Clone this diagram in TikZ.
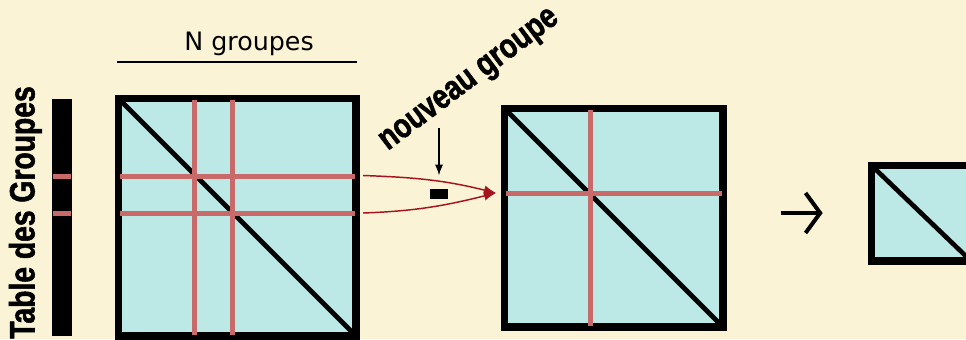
\documentclass[tikz,border=0pt]{standalone}
\usepackage{fontspec}
\setmainfont{DejaVu Sans}
\newfontfamily\condfont[FakeStretch=0.8,FakeBold=1.5]{Liberation Sans}
\usetikzlibrary{arrows.meta,positioning}
\definecolor{fond}{RGB}{250,243,213}
\definecolor{cyanpale}{RGB}{188,232,230}
\definecolor{rougegroupe}{RGB}{200,106,106}
\definecolor{rougefleche}{RGB}{165,20,30}

\begin{document}
\begin{tikzpicture}[
  x=0.75pt, y=-0.75pt,
  matrice/.style={draw,line width=3.75pt,fill=cyanpale,inner sep=0pt},
  diag/.style={line width=3.5pt},
  groupe/.style={draw=rougegroupe,line width=3.75pt,shorten <=1.5pt,shorten >=1.5pt},
  fusion/.style={draw=rougefleche,line width=1.1pt,-{Latex[length=9pt,width=7pt]}},
  titre/.style={font=\condfont\bfseries\fontsize{26.5}{26.5}\selectfont}
]
  \fill[fond] (0,0) rectangle (966,339);
  \useasboundingbox (0,0) rectangle (966,339);

  % table des groupes
  \node[fill=black,inner sep=0pt,minimum width=15pt,minimum height=177.75pt] (table) at (62,217.5) {};
  \node[titre,rotate=90,anchor=base] (tlabel) at (34.5,212.5) {Table des Groupes};
  \draw[groupe,shorten <=0.7pt,shorten >=0.7pt] (table.west |- 0,176) -- (table.east |- 0,176);
  \draw[groupe,shorten <=0.7pt,shorten >=0.7pt] (table.west |- 0,213) -- (table.east |- 0,213);

  % matrice N x N
  \node[matrice,minimum size=176.25pt] (m1) at (237,217) {};
  \draw[diag] (m1.north west) -- (m1.south east);
  \draw[groupe] (194,0 |- m1.north) -- (194,0 |- m1.south);
  \draw[groupe] (232,0 |- m1.north) -- (232,0 |- m1.south);
  \draw[groupe] (m1.west |- 0,176) -- (m1.east |- 0,176);
  \draw[groupe] (m1.west |- 0,213) -- (m1.east |- 0,213);
  \draw[line width=3.75pt] (m1.north west) rectangle (m1.south east);
  \node[anchor=base,font=\fontsize{19}{19}\selectfont] (ngroupes) at (249,50) {N groupes};
  \draw[line width=1pt] (m1.west |- 0,62) -- (m1.east |- 0,62);

  % fusion des deux groupes
  \node[matrice,minimum size=162pt] (m2) at (613.5,217.5) {};
  \draw[diag] (m2.north west) -- (m2.south east);
  \draw[groupe] (590,0 |- m2.north) -- (590,0 |- m2.south);
  \draw[groupe] (m2.west |- 0,193) -- (m2.east |- 0,193);
  \draw[line width=3.75pt] (m2.north west) rectangle (m2.south east);

  \coordinate (g1) at (363,175.5);
  \coordinate (g2) at (363,213);
  \coordinate (cible) at (496,193);
  \path[fusion] (g1) to[out=-2,in=166] (cible);
  \path[fusion] (g2) to[out=2,in=194] (cible);

  \node[fill=black,inner sep=0pt,minimum width=13.5pt,minimum height=7.5pt] (nouveau) at (439,194) {};
  \coordinate (haut) at (439,128);
  \draw[line width=1pt,-{Latex[length=8pt,width=6pt]},shorten >=10pt] (haut) -- (nouveau.north);
  \node[titre,font=\condfont\bfseries\fontsize{26}{26}\selectfont,rotate=37,anchor=base] (nlabel) at (474,86) {nouveau groupe};

  % matrice finale
  \node[matrice,minimum width=72.75pt,minimum height=69.75pt] (m3) at (921,213) {};
  \draw[diag] (m3.north west) -- (m3.south east);
  \draw[line width=3.75pt] (m3.north west) rectangle (m3.south east);

  \draw[line width=3pt,-{Straight Barb[length=11pt,width=30pt]},shorten <=42.4pt,shorten >=35.5pt]
    (m2.east |- m3.west) -- (m3.west);
\end{tikzpicture}
\end{document}
